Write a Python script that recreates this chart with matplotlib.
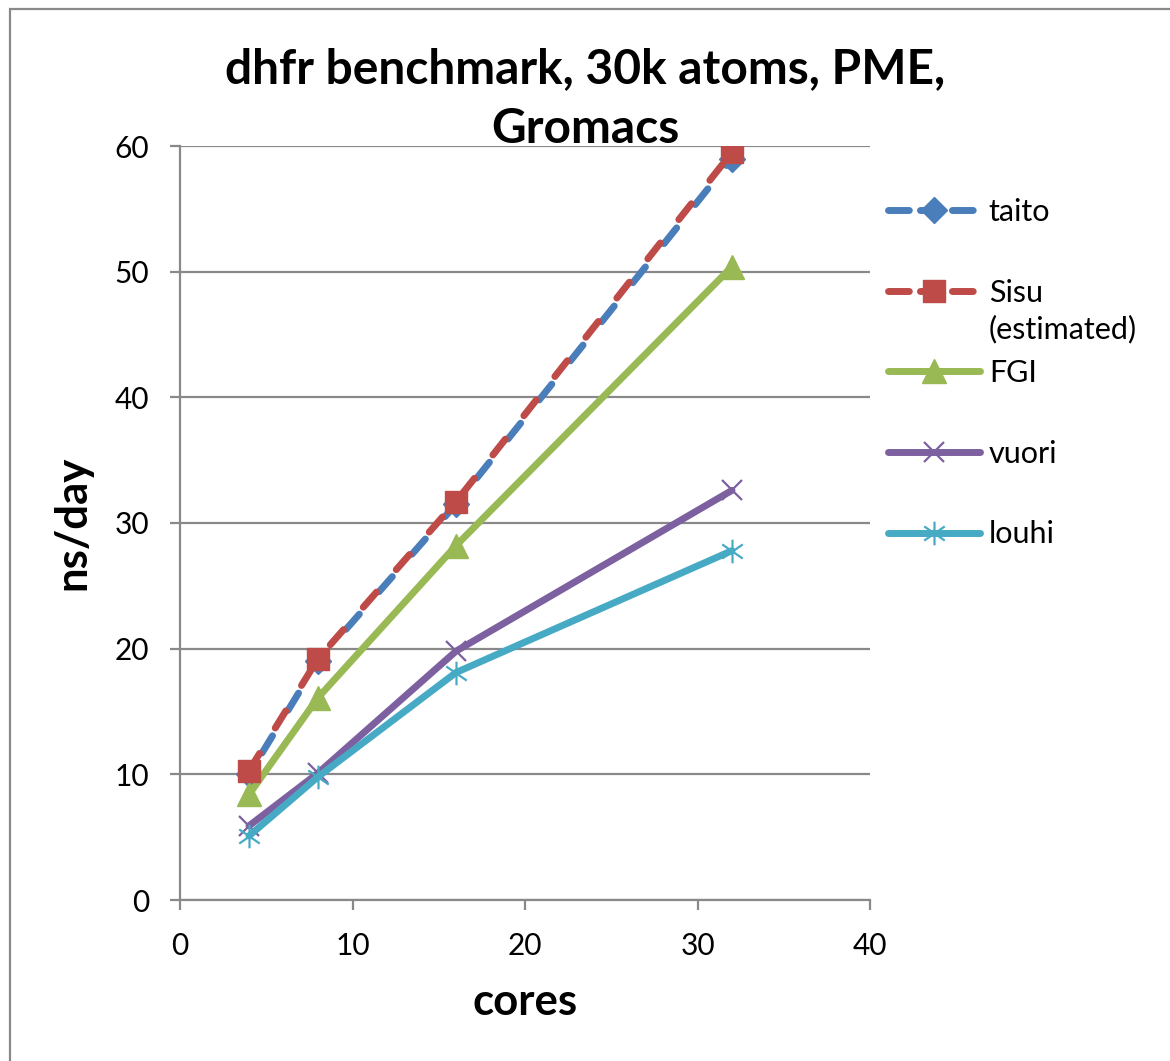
import matplotlib
matplotlib.use("Agg")
import matplotlib.pyplot as plt
from matplotlib.path import Path
from matplotlib.patches import Rectangle

plt.rcParams['font.family'] = ['Lato', 'DejaVu Sans']

cores = [4, 8, 16, 32]
taito = [10.0, 19.0, 31.5, 59.0]
sisu = [10.3, 19.2, 31.7, 59.5]
fgi = [8.4, 16.1, 28.2, 50.4]
vuori = [5.9, 10.1, 19.8, 32.6]
louhi = [5.1, 9.8, 18.1, 27.8]

x_ticks = [0, 10, 20, 30, 40]
y_ticks = [0, 10, 20, 30, 40, 50, 60]

title = "dhfr benchmark, 30k atoms, PME,\nGromacs"
xlabel = "cores"
ylabel = "ns/day"

c_blue = "#4A7EBB"
c_red = "#BE4B48"
c_green = "#98B954"
c_purple = "#7D60A0"
c_cyan = "#46AAC5"
grid_c = "#898989"

fig = plt.figure(figsize=(11.7, 10.61), dpi=100)
W, H = 1170, 1061
ax = fig.add_axes([180 / W, 1 - 900 / H, 690 / W, 754 / H])

# outer chart border (only left/top visible)
fig.add_artist(Rectangle((10 / W, -0.1), 1.2, 1.1 - 9 / H, transform=fig.transFigure,
                         fill=False, edgecolor=grid_c, linewidth=1.6, clip_on=False))

ast = Path([(0, -1), (0, 1), (-0.87, -0.6), (0.87, 0.6), (-0.87, 0.6), (0.87, -0.6)],
           [Path.MOVETO, Path.LINETO, Path.MOVETO, Path.LINETO, Path.MOVETO, Path.LINETO])

lw = 5
ax.plot(cores, taito, color=c_blue, lw=lw, linestyle=(3.6, (2.9, 4.3)), dash_capstyle='round',
        marker='D', markersize=13, markerfacecolor=c_blue, markeredgecolor=c_blue,
        label='taito', zorder=3)
ax.plot(cores, sisu, color=c_red, lw=lw, linestyle=(0, (2.9, 4.3)), dash_capstyle='round',
        marker='s', markersize=16.5, markerfacecolor=c_red, markeredgecolor=c_red,
        label='Sisu', zorder=4)
ax.plot(cores, fgi, color=c_green, lw=lw, solid_capstyle='round',
        marker='^', markersize=17, markerfacecolor=c_green, markeredgecolor=c_green,
        label='FGI', zorder=3)
ax.plot(cores, vuori, color=c_purple, lw=lw, solid_capstyle='round',
        marker='x', markersize=15, markeredgewidth=1.6, markeredgecolor=c_purple,
        label='vuori', zorder=3)
ax.plot(cores, louhi, color=c_cyan, lw=lw, solid_capstyle='round',
        marker=ast, markersize=17, markeredgewidth=1.6, markeredgecolor=c_cyan,
        label='louhi', zorder=3)

ax.set_xlim(0, 40)
ax.set_ylim(0, 60)
ax.set_xticks(x_ticks)
ax.set_yticks(y_ticks)
ax.tick_params(axis='both', labelsize=21.5, length=7, width=1.6, color=grid_c)
ax.tick_params(axis='x', pad=16)
ax.tick_params(axis='y', pad=15)
ax.yaxis.grid(True, color=grid_c, linewidth=1.6)
ax.set_axisbelow(True)
for s in ['top', 'right']:
    ax.spines[s].set_visible(False)
for s in ['left', 'bottom']:
    ax.spines[s].set_color(grid_c)
    ax.spines[s].set_linewidth(1.6)

ax.set_xlabel(xlabel, fontsize=31.5, fontweight='bold', labelpad=16)
ax.set_ylabel(ylabel, fontsize=31.5, fontweight='bold', labelpad=16)
fig.text(585 / W, 1 - 99 / H, title, fontsize=34.5, fontweight='bold', ha='center', va='center',
         linespacing=1.42)

leg = ax.legend(loc='upper left', bbox_to_anchor=(888 / W, 1 - 198 / H),
                bbox_transform=fig.transFigure, frameon=False, fontsize=22,
                handlelength=3.0, handletextpad=0.3, labelspacing=1.72, borderpad=0,
                borderaxespad=0)
for ln in leg.get_lines()[:2]:
    ln.set_linestyle((0, (3.0, 1.6)))
fig.canvas.draw()
t = leg.get_texts()[1]
bb = t.get_window_extent()
inv = fig.transFigure.inverted()
x0, y0 = inv.transform((bb.x0, bb.y0))
fig.text(x0, y0 - 8 / H, "(estimated)", fontsize=22, ha='left', va='top')

fig.savefig("out.png", dpi=100)
